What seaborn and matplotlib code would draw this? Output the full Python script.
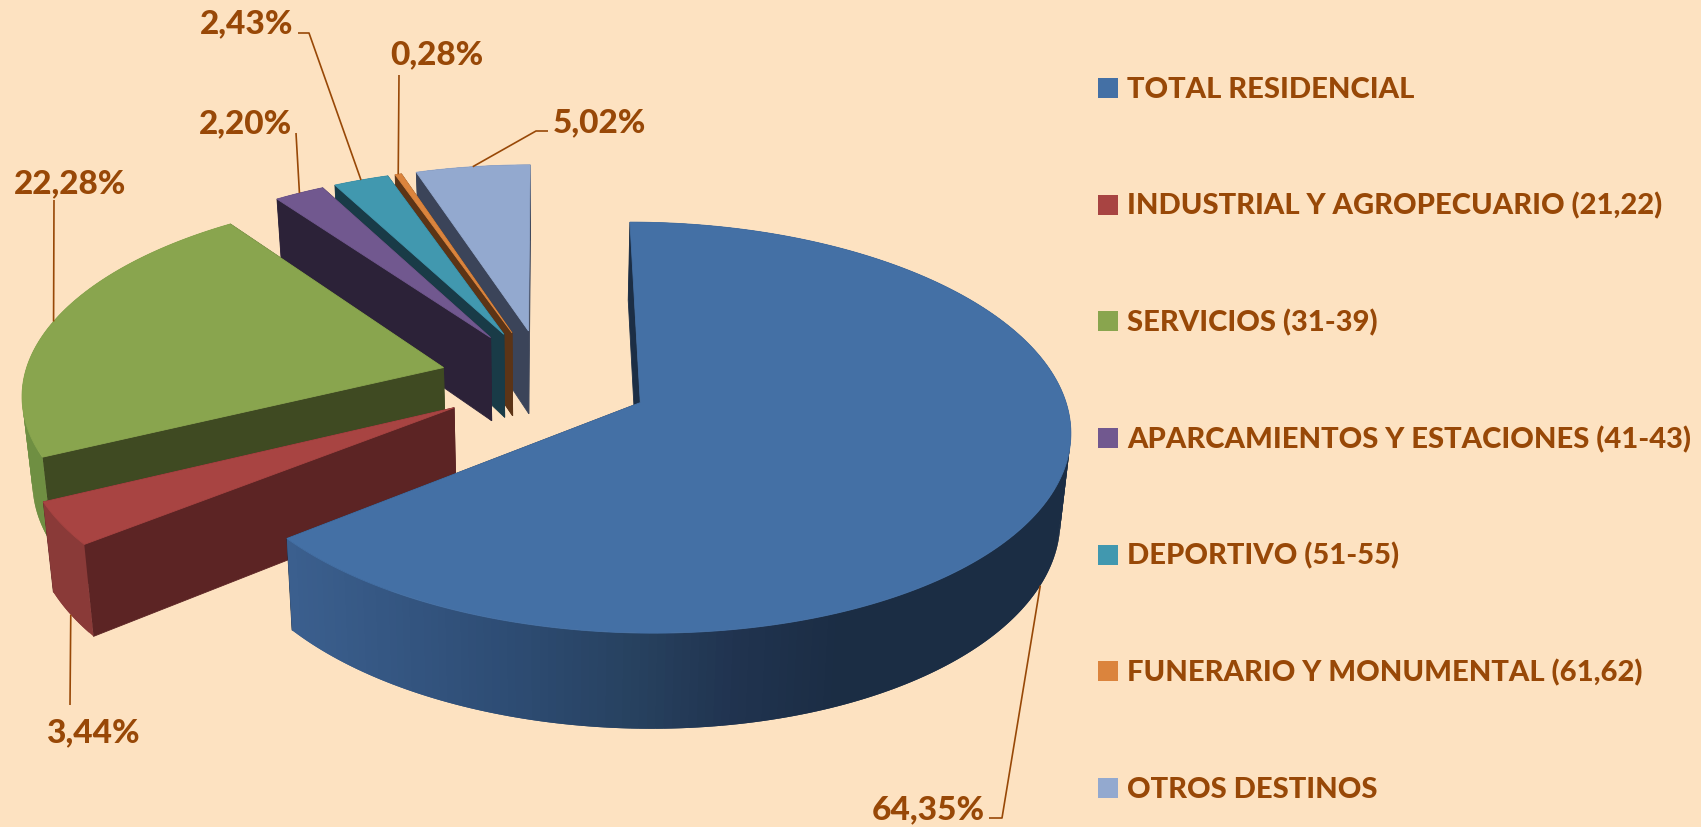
import numpy as np
import pandas as pd
import matplotlib
matplotlib.use('Agg')
import matplotlib.pyplot as plt
from matplotlib.colors import to_rgb
import seaborn as sns

# Chart data
categories = ['TOTAL RESIDENCIAL', 'INDUSTRIAL Y AGROPECUARIO (21,22)', 'SERVICIOS (31-39)',
              'APARCAMIENTOS Y ESTACIONES (41-43)', 'DEPORTIVO (51-55)',
              'FUNERARIO Y MONUMENTAL (61,62)', 'OTROS DESTINOS']
shares = [64.35, 3.44, 22.28, 2.20, 2.43, 0.28, 5.02]

top_colors = ['#4470A5', '#A84442', '#89A54E', '#71588F', '#4198AF', '#DB843D', '#93A9CF']
wall_colors = ['#1C2E45', '#5C2424', '#3F4A22', '#2C2238', '#193B47', '#5C3416', '#3B4459']
rim_colors = ['#1C2E45', '#8A3A38', '#6F8F42', '#2C2238', '#193B47', '#5C3416', '#3B4459']

# label layout in pixels: text x, baseline y, optional elbow points
label_x = [928, 93, 70, 245, 247, 437, 599]
label_y = [819, 742, 193, 133, 33, 64, 132]
elbows = [[(989, 818), (1002, 818)], [(70, 705)], [(54, 200)], [(296, 133)],
          [(298, 33), (309, 33)], [(399, 75)], [(548, 131), (536, 131)]]

BG = '#FDE2C1'
TEXT = '#984807'

# perspective of the pie
CX, CY = 544.5, 380
FX, FY = 420, 197
PERSP = 0.12
EXPLODE_X, EXPLODE_Y = 0.25, 0.26
DEPTH = 85


def project(x, y):
    w = 1 + PERSP * y
    return CX + FX * x / w, CY - FY * y / w


def top_point(a, m, r=1.0):
    # a: angle clockwise from 12 o'clock, m: mid angle of the slice
    x = EXPLODE_X * np.sin(m) + r * np.sin(a)
    y = EXPLODE_Y * np.cos(m) + r * np.cos(a)
    return project(x, y)


def low_point(a, m, r=1.0):
    y = EXPLODE_Y * np.cos(m) + r * np.cos(a)
    sx, sy = top_point(a, m, r)
    return CX + (sx - CX) * 0.98, sy + DEPTH / (1 + 0.1 * y)


sns.set_theme(style='white')
plt.rcParams['font.family'] = ['Lato', 'DejaVu Sans']

fig = plt.figure(figsize=(17.01, 8.27), dpi=100, facecolor=BG)
ax = fig.add_axes([0, 0, 1, 1])
ax.set_xlim(0, 1701)
ax.set_ylim(827, 0)
ax.axis('off')

edges = np.radians(np.concatenate([[0], np.cumsum(shares)]) * 3.6)

# shading of the big slice wall runs along the screen x
shade_x = [290, 500, 637, 739, 841, 1100]
shade_rgb = np.array([to_rgb(c) for c in ['#3B5F8E', '#2E4D75', '#27415F', '#20334F', '#1B2D44', '#1B2D44']])

# paint from the back slice to the front one
for i in [6, 5, 4, 3, 2, 1, 0]:
    a0, a1 = edges[i], edges[i + 1]
    m = (a0 + a1) / 2
    ts = np.linspace(a0, a1, max(int(np.degrees(a1 - a0)), 2) + 1)
    step = ts[1] - ts[0]

    def facet(t0, t1):
        if i == 0:
            sx = top_point((t0 + t1) / 2, m)[0]
            col = [np.interp(sx, shade_x, shade_rgb[:, k]) for k in range(3)]
        else:
            col = rim_colors[i]
        # runs over the next facet, so no seams show
        t2 = t1 + step if t1 + step <= a1 else t1
        ax.fill(*zip(top_point(t0, m), top_point(t2, m), low_point(t2, m), low_point(t0, m)),
                facecolor=col, edgecolor='none', lw=0)

    for t0, t1 in zip(ts[:-1], ts[1:]):
        if np.cos((t0 + t1) / 2) > 0:
            facet(t0, t1)
    for a in [a1, a0]:
        ax.fill(*zip(top_point(0, m, 0), top_point(a, m), low_point(a, m), low_point(0, m, 0)),
                color=wall_colors[i], lw=0.6)
    for t0, t1 in zip(ts[:-1], ts[1:]):
        if np.cos((t0 + t1) / 2) <= 0:
            facet(t0, t1)
    outline = [top_point(0, m, 0)] + [top_point(t, m) for t in ts]
    ax.fill(*zip(*outline), color=top_colors[i], lw=0.6)

# value labels and leader lines
for i, v in enumerate(shares):
    m = (edges[i] + edges[i + 1]) / 2
    end = low_point(m, m) if np.cos(m) < 0 else top_point(m, m)
    pts = elbows[i] + [end]
    ax.plot(*zip(*pts), color=TEXT, lw=1.2, solid_capstyle='butt')
    ax.text(label_x[i], label_y[i], f'{v:.2f}'.replace('.', ',') + '%', color=TEXT,
            fontsize=24, fontweight='black', ha='center', va='baseline')

# legend swatches on a categorical axis
legend_df = pd.DataFrame({'x': [1108] * len(categories), 'category': categories})
ax2 = fig.add_axes([0, 0, 1, 1], facecolor='none')
sns.scatterplot(data=legend_df, x='x', y='category', hue='category', palette=top_colors,
                marker='s', s=207, linewidth=0, legend=False, ax=ax2)
ax2.set_xlim(0, 1701)
ax2.set_ylim(6.334, -0.754)
ax2.axis('off')
for i, name in enumerate(categories):
    ax2.text(1127, i + 0.086, name, color=TEXT, fontsize=21, fontweight='black',
             ha='left', va='baseline')

fig.savefig('out.png', dpi=100, facecolor=BG)
